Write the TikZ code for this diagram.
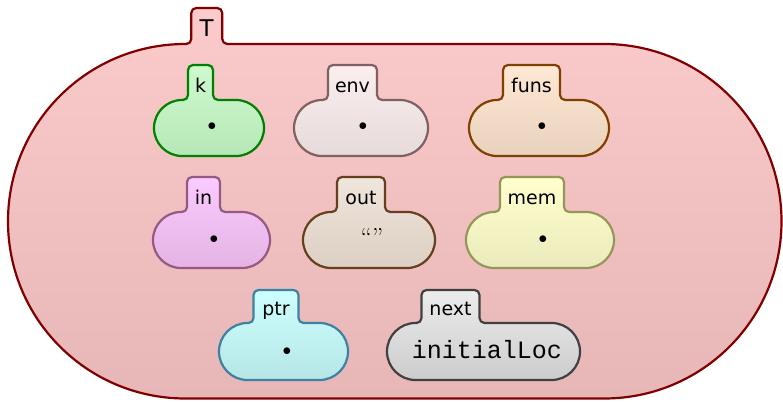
\documentclass[tikz,border=0pt]{standalone}
\usepackage{fontspec}
\newfontfamily\cellfont{DejaVu Sans}
\newfontfamily\codefont{Liberation Mono}

% outline / top / bottom colours of the cells
\definecolor{Tline}{RGB}{128,0,0}   \definecolor{Ttop}{RGB}{251,202,202}  \definecolor{Tbot}{RGB}{231,182,182}
\definecolor{kline}{RGB}{0,128,0}   \definecolor{ktop}{RGB}{206,250,206}  \definecolor{kbot}{RGB}{183,231,183}
\definecolor{envline}{RGB}{128,96,96} \definecolor{envtop}{RGB}{250,238,238} \definecolor{envbot}{RGB}{230,218,218}
\definecolor{funsline}{RGB}{128,64,0} \definecolor{funstop}{RGB}{255,233,212} \definecolor{funsbot}{RGB}{232,210,190}
\definecolor{inline}{RGB}{150,90,130} \definecolor{intop}{RGB}{251,202,255} \definecolor{inbot}{RGB}{228,180,228}
\definecolor{outline}{RGB}{100,64,32} \definecolor{outtop}{RGB}{240,230,220} \definecolor{outbot}{RGB}{220,207,195}
\definecolor{memline}{RGB}{150,150,90} \definecolor{memtop}{RGB}{255,255,206} \definecolor{membot}{RGB}{235,234,188}
\definecolor{ptrline}{RGB}{64,128,160} \definecolor{ptrtop}{RGB}{206,255,255} \definecolor{ptrbot}{RGB}{182,230,230}
\definecolor{nextline}{RGB}{64,64,64} \definecolor{nexttop}{RGB}{236,236,236} \definecolor{nextbot}{RGB}{204,204,204}

\tikzset{
  cell/.style={line width=2.2pt, line join=round, draw=#1line, top color=#1top, bottom color=#1bot},
  cell name/.style={anchor=base, inner sep=0pt, font=\cellfont\fontsize{19}{22}\selectfont},
  cell dot/.style={inner sep=0pt, font=\fontsize{18}{20}\selectfont},
}

% cell with a tab: name, colour, left, right, tab top, body top, bottom, tab width, label
\newcommand{\kcell}[9]{%
  \pgfmathsetmacro\cellR{(#6-#7)/2}
  \pgfmathsetmacro\tabL{#3+\cellR+6}
  \pgfmathsetmacro\tabR{\tabL+#8}
  \draw[cell=#2] (#3+\cellR,#6) -- (\tabL-5,#6) arc[start angle=270,end angle=360,radius=5]
    -- (\tabL,#5-5) arc[start angle=180,end angle=90,radius=5]
    -- (\tabR-5,#5) arc[start angle=90,end angle=0,radius=5]
    -- (\tabR,#6+5) arc[start angle=180,end angle=270,radius=5]
    -- (#4-\cellR,#6) arc[start angle=90,end angle=-90,radius=\cellR]
    -- (#3+\cellR,#7) arc[start angle=270,end angle=90,radius=\cellR]
    -- cycle;
  \node[cell name] (#1) at ({(\tabL+\tabR)/2},#6+7) {#9};
}

\begin{document}
\begin{tikzpicture}[x=1pt,y=1pt]
  \useasboundingbox (0,0) rectangle (783,401);

  % outer cell
  \kcell{T}{T}{8}{781.5}{393}{357}{2.5}{31}{\fontsize{23}{26}\selectfont T}

  % first row
  \kcell{k}{k}{154}{264}{336}{301}{245}{25}{k}
  \kcell{env}{env}{294}{428}{336}{301}{245}{49}{env}
  \kcell{funs}{funs}{469}{609}{336}{301}{245}{57}{funs}
  \node[cell dot] (k-val) at (212,274) {$\bullet$};
  \node[cell dot] (env-val) at (363,274) {$\bullet$};
  \node[cell dot] (funs-val) at (542,274) {$\bullet$};

  % second row
  \kcell{in}{in}{153}{270}{224}{189}{133}{33}{in}
  \kcell{out}{out}{303}{435}{224}{189}{133}{48}{out}
  \kcell{mem}{mem}{466}{614}{224}{189}{133}{64}{mem}
  \node[cell dot] (in-val) at (214,161) {$\bullet$};
  \node[anchor=base,inner sep=0pt,font=\fontsize{26}{30}\selectfont] (out-val) at (372,154) {“”};
  \node[cell dot] (mem-val) at (543,161) {$\bullet$};

  % third row
  \kcell{ptr}{ptr}{219}{348}{111}{78}{21}{45}{ptr}
  \kcell{next}{next}{387}{580}{111}{78}{21}{58}{next}
  \node[cell dot] (ptr-val) at (287,49) {$\bullet$};
  \node[anchor=base,inner sep=0pt,font=\codefont\fontsize{25}{30}\selectfont] (next-val) at (487,42.5) {initialLoc};
\end{tikzpicture}
\end{document}
